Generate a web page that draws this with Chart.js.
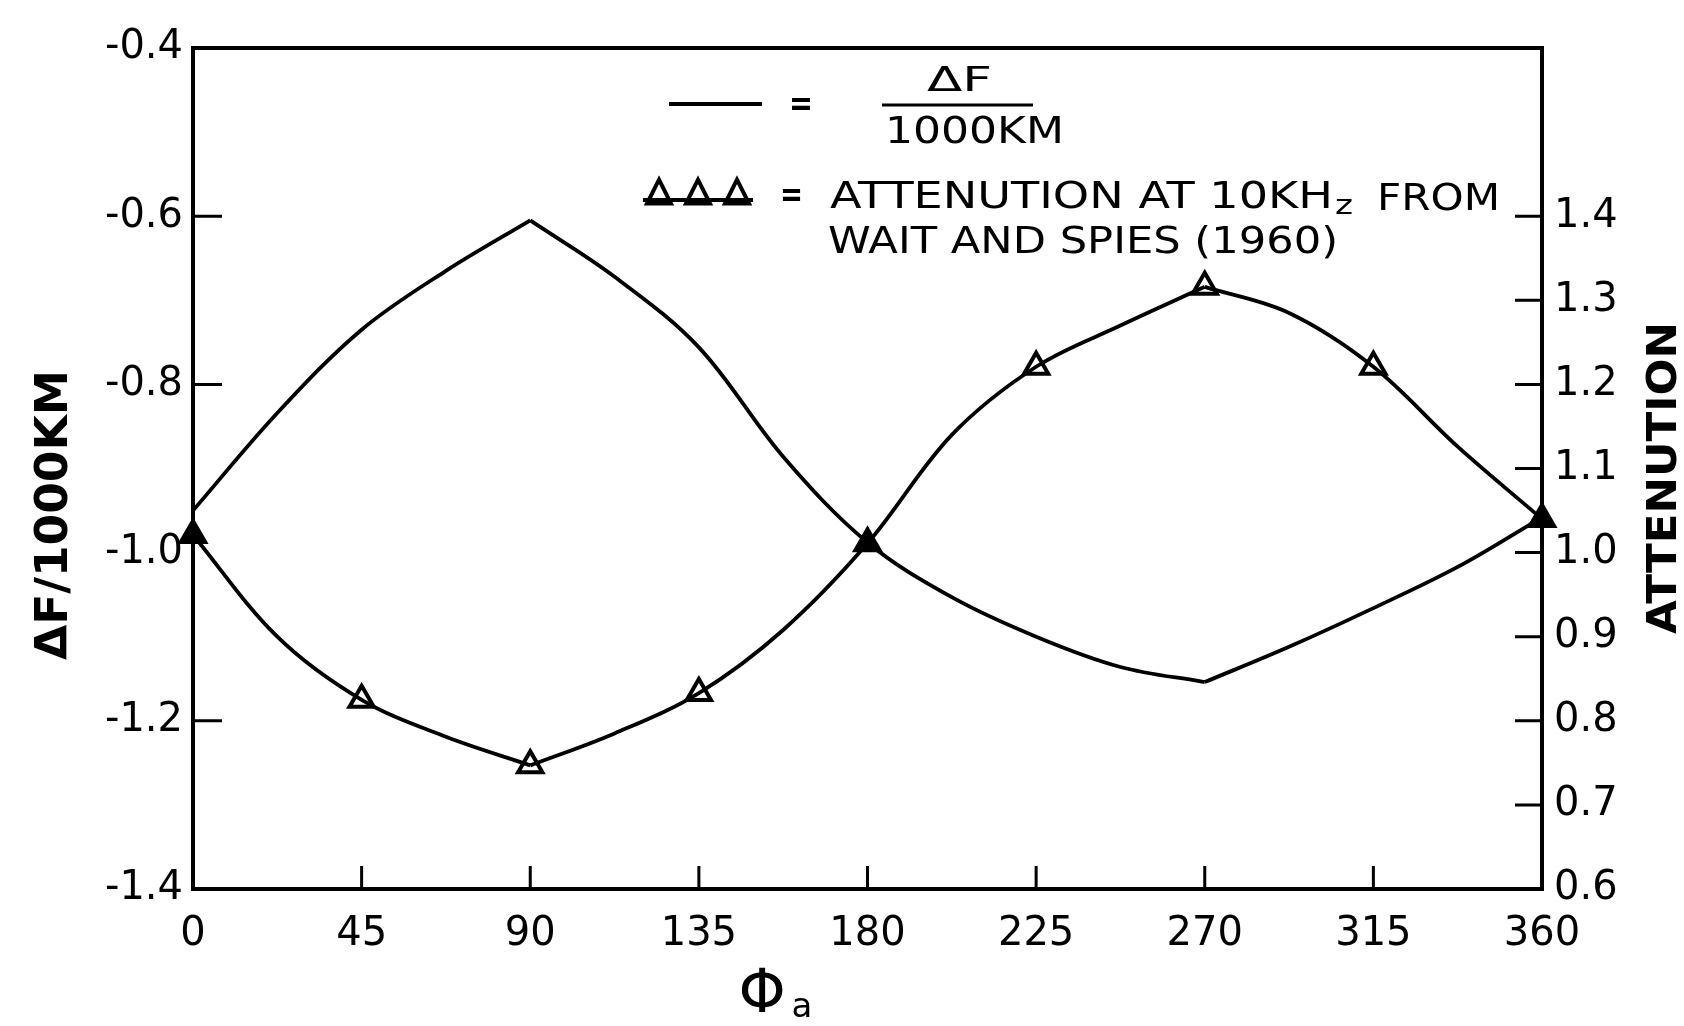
<!DOCTYPE html>
<html>
<head>
<meta charset="utf-8">
<title>ΔF/1000KM and attenuation against Φa</title>
<script src="https://cdn.jsdelivr.net/npm/chart.js@4.4.1/dist/chart.umd.min.js"></script>
<style>
  html, body { margin: 0; padding: 0; background: #fff; }
  #wrap { width: 1684px; height: 1026px; }
</style>
</head>
<body>
<div id="wrap"><canvas id="chart"></canvas></div>
<script>
// azimuth Φa in degrees
const angles = [0, 22.5, 45, 67.5, 90, 112.5, 135, 157.5, 180, 202.5, 225, 247.5, 270, 292.5, 315, 337.5, 360];
// solid curve, ΔF / 1000 km (left axis)
const deltaF = [-0.95, -0.834, -0.735, -0.665, -0.605, -0.672, -0.756, -0.886, -0.988, -1.053, -1.100, -1.136, -1.154, -1.112, -1.066, -1.017, -0.958];
// attenuation at 10 kHz from Wait and Spies (1960) (right axis)
const attenuation = [1.021, 0.900, 0.825, 0.781, 0.747, 0.785, 0.833, 0.908, 1.011, 1.140, 1.221, 1.270, 1.316, 1.285, 1.221, 1.126, 1.040];
// triangles only at the measured angles
const markerAngles = [0, 45, 90, 135, 180, 225, 270, 315, 360];
const filledMarkers = [0, 180, 360];
// the hand drawn curves have sharp corners at their peaks and troughs
const cornerAngles = [90, 270];
// inward tick marks
const leftTickMarks = [-0.6, -0.8, -1.2];
const rightTickMarks = [0.7, 0.8, 0.9, 1.0, 1.1, 1.2, 1.3, 1.4];
const bottomTickMarks = [45, 90, 135, 180, 225, 270, 315];

const FONT = "'DejaVu Sans', 'Liberation Sans', sans-serif";

// cut a curve into pieces at the corners, so each piece is smoothed on its own
function pieces(xs, ys) {
  const cuts = [xs[0], ...cornerAngles, xs[xs.length - 1]];
  const pts = xs.map((a, i) => ({ x: a, y: ys[i] }));
  const out = [];
  for (let k = 0; k < cuts.length - 1; k++) {
    out.push(pts.filter(p => p.x >= cuts[k] && p.x <= cuts[k + 1]));
  }
  return out;
}

// draw text squeezed / stretched to a given width
function fitText(ctx, text, x, y, width, font) {
  ctx.save();
  ctx.font = font;
  const w = ctx.measureText(text).width;
  ctx.translate(x, y);
  ctx.scale(width / w, 1);
  ctx.textAlign = 'left';
  ctx.textBaseline = 'middle';
  ctx.fillText(text, 0, 0);
  ctx.restore();
}

function triangle(ctx, cx, cy, size) {
  ctx.beginPath();
  ctx.moveTo(cx, cy - size * 0.6);
  ctx.lineTo(cx + size * 0.5, cy + size * 0.4);
  ctx.lineTo(cx - size * 0.5, cy + size * 0.4);
  ctx.closePath();
  ctx.stroke();
}

const framePlugin = {
  id: 'frame',
  afterDraw(chart) {
    const ctx = chart.ctx;
    const a = chart.chartArea;
    const { x, y, y2 } = chart.scales;
    ctx.save();
    ctx.strokeStyle = '#000';
    ctx.fillStyle = '#000';
    ctx.lineWidth = 4;
    ctx.strokeRect(a.left, a.top, a.right - a.left, a.bottom - a.top);

    ctx.lineWidth = 3;
    ctx.beginPath();
    leftTickMarks.forEach(v => {
      const py = y.getPixelForValue(v);
      ctx.moveTo(a.left, py); ctx.lineTo(a.left + 29, py);
    });
    rightTickMarks.forEach(v => {
      const py = y2.getPixelForValue(v);
      ctx.moveTo(a.right, py); ctx.lineTo(a.right - 27, py);
    });
    bottomTickMarks.forEach(v => {
      const px = x.getPixelForValue(v);
      ctx.moveTo(px, a.bottom); ctx.lineTo(px, a.bottom - 23);
    });
    ctx.stroke();

    // key
    ctx.lineWidth = 4;
    ctx.beginPath();
    ctx.moveTo(669, 104); ctx.lineTo(762, 104);
    ctx.stroke();
    fitText(ctx, '=', 789, 106, 24, 'bold 36px ' + FONT);
    fitText(ctx, 'ΔF', 927, 82, 65, '34px ' + FONT);
    ctx.lineWidth = 3;
    ctx.beginPath();
    ctx.moveTo(882, 105); ctx.lineTo(1033, 105);
    ctx.stroke();
    fitText(ctx, '1000KM', 885, 133, 179, '38px ' + FONT);

    ctx.lineWidth = 4;
    ctx.beginPath();
    ctx.moveTo(643, 200); ctx.lineTo(753, 200);
    ctx.stroke();
    [659, 698, 737].forEach(cx => triangle(ctx, cx, 194, 24));
    fitText(ctx, '=', 780, 197, 23, 'bold 36px ' + FONT);
    fitText(ctx, 'ATTENUTION AT 10KH', 830, 198, 503, '38px ' + FONT);
    fitText(ctx, 'z', 1335, 207, 18, '26px ' + FONT);
    fitText(ctx, 'FROM', 1377, 200, 123, '38px ' + FONT);
    fitText(ctx, 'WAIT AND SPIES (1960)', 828, 243, 510, '38px ' + FONT);

    // axis titles
    ctx.save();
    ctx.translate(56, 515);
    ctx.rotate(-Math.PI / 2);
    fitText(ctx, 'ΔF/1000KM', -145, 0, 290, 'bold 44px ' + FONT);
    ctx.restore();

    ctx.save();
    ctx.translate(1666, 478);
    ctx.rotate(-Math.PI / 2);
    fitText(ctx, 'ATTENUTION', -156, 0, 312, 'bold 40px ' + FONT);
    ctx.restore();

    ctx.font = '60px ' + FONT;
    ctx.textAlign = 'center';
    ctx.textBaseline = 'middle';
    ctx.fillText('Φ', 762, 996);
    ctx.font = '34px ' + FONT;
    ctx.fillText('a', 802, 1008);
    ctx.restore();
  }
};

const lineStyle = { borderColor: '#000', borderWidth: 3.8, pointRadius: 0, tension: 0.35, clip: false };

const datasets = [];
pieces(angles, deltaF).forEach(data => datasets.push({ ...lineStyle, label: 'ΔF/1000KM', data, yAxisID: 'y' }));
pieces(angles, attenuation).forEach(data => datasets.push({ ...lineStyle, label: 'Attenuation', data, yAxisID: 'y2' }));
datasets.push({
  label: 'Attenuation at 10 kHz (Wait and Spies 1960)',
  data: angles.map((a, i) => ({ x: a, y: attenuation[i] })).filter(p => markerAngles.includes(p.x)),
  yAxisID: 'y2',
  showLine: false,
  pointStyle: 'triangle',
  pointRadius: 14,
  pointBorderWidth: 4,
  pointBorderColor: '#000',
  pointBackgroundColor: markerAngles.map(a => filledMarkers.includes(a) ? '#000' : '#fff'),
  clip: false
});

const tickFont = { family: FONT, size: 40 };

new Chart(document.getElementById('chart'), {
  type: 'line',
  data: { datasets },
  options: {
    responsive: true,
    maintainAspectRatio: false,
    animation: false,
    layout: { padding: { top: 48, left: 0, right: 0, bottom: 0 } },
    plugins: { legend: { display: false }, tooltip: { enabled: false } },
    scales: {
      x: {
        type: 'linear',
        min: 0,
        max: 360,
        grid: { display: false, drawTicks: false },
        border: { display: false },
        ticks: { stepSize: 45, font: tickFont, color: '#000', padding: 22, maxRotation: 0, autoSkip: false },
        afterFit: s => { s.height = 137; }
      },
      y: {
        position: 'left',
        min: -1.4,
        max: -0.4,
        grid: { display: false, drawTicks: false },
        border: { display: false },
        ticks: { stepSize: 0.2, font: tickFont, color: '#000', padding: 10, callback: v => v.toFixed(1) },
        afterFit: s => { s.width = 193; }
      },
      y2: {
        position: 'right',
        min: 0.6,
        max: 1.6,
        grid: { display: false, drawTicks: false },
        border: { display: false },
        ticks: { stepSize: 0.1, font: tickFont, color: '#000', padding: 12, autoSkip: false, callback: v => v < 1.45 ? v.toFixed(1) : '' },
        afterFit: s => { s.width = 142; }
      }
    }
  },
  plugins: [framePlugin]
});
</script>
</body>
</html>
